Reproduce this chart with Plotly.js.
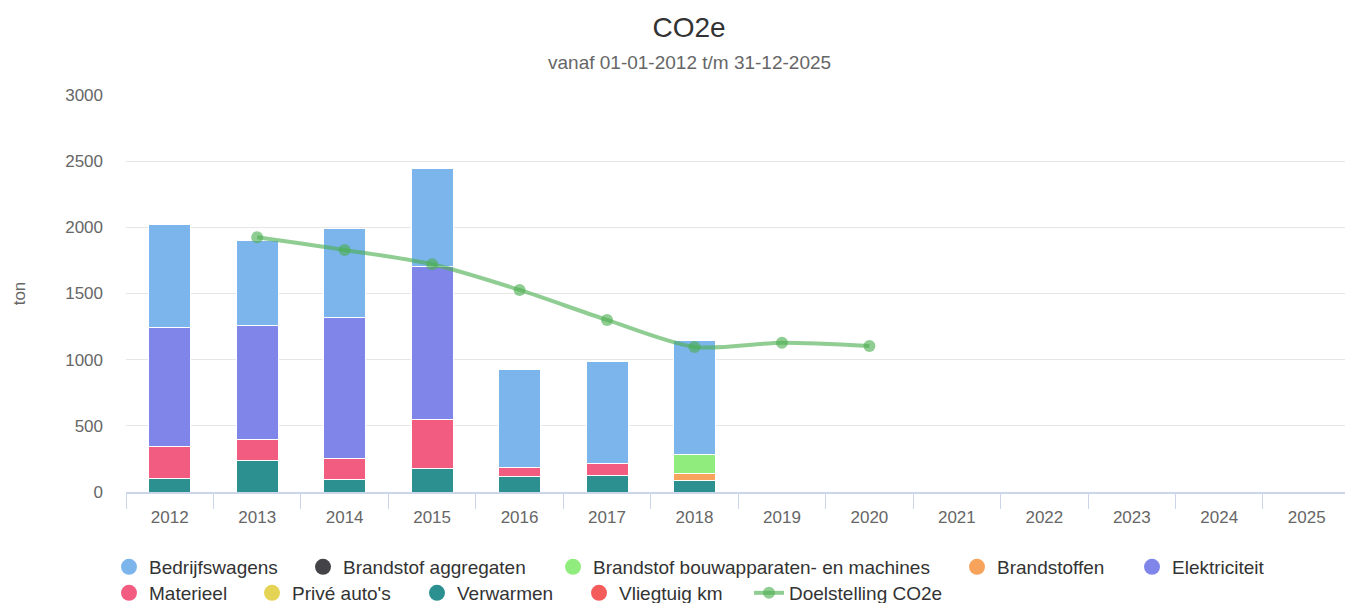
<!DOCTYPE html>
<html>
<head>
<meta charset="utf-8">
<script src="https://cdn.plot.ly/plotly-3.0.1.min.js"></script>
<style>
  html, body { margin: 0; padding: 0; background: #ffffff; overflow: hidden; }
  #chart { width: 1345px; height: 603px; }
</style>
</head>
<body>
<div id="chart"></div>
<script>
// ---- data (ton CO2e) ----
const years = ['2012','2013','2014','2015','2016','2017','2018','2019','2020','2021','2022','2023','2024','2025'];
const bedrijfswagens = [777, 648, 672, 744, 740, 766, 868, null, null, null, null, null, null, null];
const brandstofAggregaten = [0, 0, 0, 0, 0, 0, 0, null, null, null, null, null, null, null];
const brandstofBouwapparaten = [0, 0, 0, 0, 0, 0, 139, null, null, null, null, null, null, null];
const brandstoffen = [0, 0, 0, 0, 0, 0, 53, null, null, null, null, null, null, null];
const elektriciteit = [900, 856, 1063, 1157, 0, 0, 0, null, null, null, null, null, null, null];
const materieel = [239, 164, 156, 368, 65, 93, 0, null, null, null, null, null, null, null];
const priveAutos = [0, 0, 0, 0, 0, 0, 0, null, null, null, null, null, null, null];
const verwarmen = [102, 236, 97, 177, 117, 124, 88, null, null, null, null, null, null, null];
const vliegtuigKm = [0, 0, 0, 0, 0, 0, 0, null, null, null, null, null, null, null];
const doelstelling = [null, 1925, 1829, 1721, 1527, 1300, 1096, 1128, 1104, null, null, null, null, null];

const seriesNames = ['Bedrijfswagens', 'Brandstof aggregaten', 'Brandstof bouwapparaten- en machines', 'Brandstoffen', 'Elektriciteit',
                     'Materieel', "Privé auto's", 'Verwarmen', 'Vliegtuig km'];
const seriesValues = [bedrijfswagens, brandstofAggregaten, brandstofBouwapparaten, brandstoffen, elektriciteit,
                      materieel, priveAutos, verwarmen, vliegtuigKm];
const seriesColors = ['#7cb5ec', '#434348', '#90ed7d', '#f7a35c', '#8085e9', '#f15c80', '#e4d354', '#2b908f', '#f45b5b'];
const lineName = 'Doelstelling CO2e';
const lineColor = 'rgba(76,175,80,0.62)';

// legend layout: text start x (px) and row centre y (px)
const legendTextX = [149, 343, 593, 997, 1172, 149, 292, 457, 619, 789];
const legendRowY = [567, 567, 567, 567, 567, 593, 593, 593, 593, 593];

const FONT = '"Liberation Sans", Arial, Helvetica, sans-serif';
const M = {l: 126, r: 0, t: 95, b: 111};
const W = 1345, H = 603;
const PW = W - M.l - M.r, PH = H - M.t - M.b;
const catW = 87.46;

const traces = [];
// bars: bottom of stack first (Highcharts stacks the first series on top)
for (let i = seriesNames.length - 1; i >= 0; i--) {
  traces.push({
    type: 'bar', name: seriesNames[i], x: years, y: seriesValues[i],
    marker: {color: seriesColors[i], line: {color: '#ffffff', width: 1}},
    legendgroup: 'g' + i, showlegend: false, hoverinfo: 'x+y+name'
  });
}
traces.push({
  type: 'scatter', mode: 'lines+markers', name: lineName, x: years, y: doelstelling,
  line: {color: lineColor, width: 4, shape: 'spline', smoothing: 0.8},
  marker: {color: lineColor, size: 12},
  legend: 'legend10', legendgroup: 'gl', showlegend: true
});
// legend entries with round symbols
for (let i = 0; i < seriesNames.length; i++) {
  traces.push({
    type: 'scatter', mode: 'markers', name: seriesNames[i], x: [null], y: [null],
    marker: {color: seriesColors[i], size: 18},
    legend: i === 0 ? 'legend' : 'legend' + (i + 1), legendgroup: 'g' + i,
    showlegend: true, hoverinfo: 'skip'
  });
}

const layout = {
  width: W, height: H, margin: M,
  paper_bgcolor: '#ffffff', plot_bgcolor: '#ffffff',
  font: {family: FONT, color: '#333333'},
  barmode: 'stack', bargap: 0.52,
  title: {text: 'CO2e', font: {family: FONT, size: 28, color: '#333333'},
          xref: 'container', x: 689 / W, xanchor: 'center', yref: 'container', y: 1 - 27 / H, yanchor: 'middle'},
  annotations: [{
    text: 'vanaf 01-01-2012 t/m 31-12-2025', showarrow: false,
    xref: 'paper', yref: 'paper', x: (689.5 - M.l) / PW, y: (H - M.b - 63) / PH,
    xanchor: 'center', yanchor: 'middle', font: {family: FONT, size: 19, color: '#666666'}
  }],
  xaxis: {
    type: 'category', range: [-0.5, -0.5 + PW / catW], tickson: 'boundaries',
    ticks: 'outside', ticklen: 15, tickwidth: 1, tickcolor: '#ccd6eb',
    showline: true, linecolor: '#ccd6eb', linewidth: 1.5, showgrid: false, zeroline: false,
    ticklabelstandoff: 9,
    tickfont: {family: FONT, size: 17, color: '#666666'}, fixedrange: true
  },
  yaxis: {
    range: [0, 3000], dtick: 500, tick0: 0, showgrid: true, gridcolor: '#e6e6e6', gridwidth: 1,
    zeroline: false, showline: false, ticks: '', ticklabelstandoff: 22,
    tickfont: {family: FONT, size: 17, color: '#666666'},
    title: {text: 'ton', font: {family: FONT, size: 17, color: '#666666'}, standoff: 35},
    automargin: true, fixedrange: true
  },
  showlegend: true
};
for (let k = 0; k < 10; k++) {
  const key = k === 0 ? 'legend' : 'legend' + (k + 1);
  layout[key] = {
    orientation: 'h', xref: 'paper', yref: 'container',
    x: (legendTextX[k] - 40 - M.l) / PW, xanchor: 'left',
    y: 1 - legendRowY[k] / H, yanchor: 'middle',
    bgcolor: 'rgba(0,0,0,0)', borderwidth: 0,
    font: {family: FONT, size: 19, color: '#333333'}
  };
}

Plotly.newPlot('chart', traces, layout, {displayModeBar: false, responsive: false});
</script>
</body>
</html>
